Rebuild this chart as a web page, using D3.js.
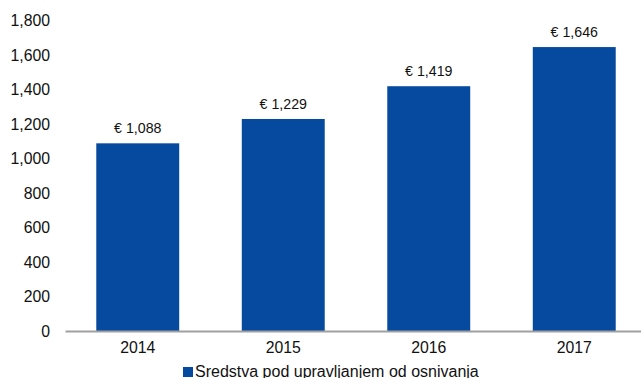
<!DOCTYPE html>
<html>
<head>
<meta charset="utf-8">
<script src="https://cdn.jsdelivr.net/npm/d3@7"></script>
<style>
  html, body { margin: 0; padding: 0; background: #fff; }
  svg { display: block; font-family: "Liberation Sans", Arial, sans-serif; }
</style>
</head>
<body>
<svg id="chart" width="641" height="378"></svg>
<script>
// Assets under management since inception (EUR), by year
const years = ["2014", "2015", "2016", "2017"];
const assets = [1088, 1229, 1419, 1646];
const yTicks = [0, 200, 400, 600, 800, 1000, 1200, 1400, 1600, 1800];
const seriesName = "Sredstva pod upravljanjem od osnivanja";

const svg = d3.select("#chart");
const barColor = "#064A9F";

const x = d3.scaleBand()
  .domain(years)
  .range([65, 647])
  .paddingInner(0.43)
  .paddingOuter(0.215);

const y = d3.scaleLinear()
  .domain([0, 1800])
  .range([331, 20.5]);

const fmt = d3.format(",");

// y axis labels (no axis line)
const yAxis = svg.append("g")
  .attr("transform", "translate(50,0)")
  .call(d3.axisLeft(y).tickValues(yTicks).tickFormat(fmt).tickSize(0).tickPadding(0));
yAxis.select(".domain").remove();
yAxis.selectAll("text")
  .attr("font-size", 15.8)
  .attr("font-family", "Liberation Sans, Arial, sans-serif")
  .attr("fill", "#111");

// bars
svg.append("g").selectAll("rect")
  .data(years.map((yr, i) => ({ yr, v: assets[i] })))
  .join("rect")
  .attr("x", d => x(d.yr))
  .attr("width", x.bandwidth())
  .attr("y", d => y(d.v))
  .attr("height", d => y(0) - y(d.v))
  .attr("fill", barColor);

// value labels
svg.append("g").selectAll("text")
  .data(years.map((yr, i) => ({ yr, v: assets[i] })))
  .join("text")
  .attr("x", d => x(d.yr) + x.bandwidth() / 2)
  .attr("y", d => y(d.v) - 10)
  .attr("text-anchor", "middle")
  .attr("font-size", 14.2)
  .attr("fill", "#111")
  .text(d => "€ " + fmt(d.v));

// x axis
const xAxis = svg.append("g")
  .attr("transform", `translate(0,${y(0)})`)
  .call(d3.axisBottom(x).tickSize(0).tickPadding(11));
xAxis.select(".domain")
  .attr("stroke", "#A0A0A0")
  .attr("stroke-width", 2);
xAxis.selectAll("text")
  .attr("font-size", 15.8)
  .attr("font-family", "Liberation Sans, Arial, sans-serif")
  .attr("fill", "#111");

// legend
const legend = svg.append("g").attr("transform", "translate(183,367)");
legend.append("rect")
  .attr("width", 10).attr("height", 10)
  .attr("fill", barColor);
legend.append("text")
  .attr("x", 12).attr("y", 9.5)
  .attr("font-size", 16)
  .attr("fill", "#111")
  .text(seriesName);
</script>
</body>
</html>
